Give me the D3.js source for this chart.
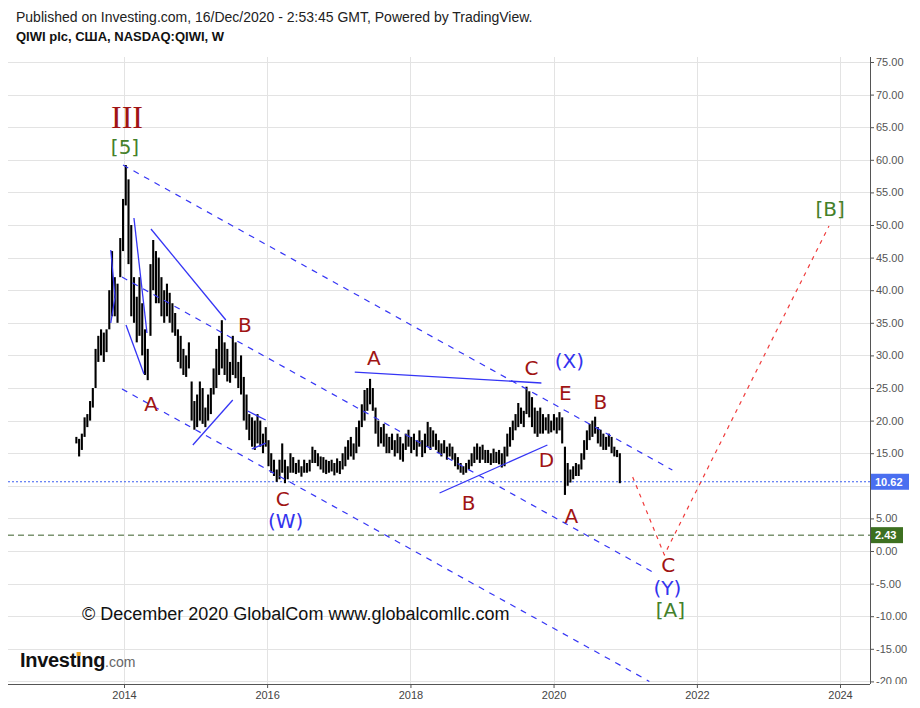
<!DOCTYPE html>
<html><head><meta charset="utf-8">
<script src="https://cdn.jsdelivr.net/npm/d3@7"></script>
<style>body{margin:0;background:#fff}svg{display:block}</style>
</head><body>
<svg id="c" width="920" height="708"></svg>
<script>
// ---------- DATA ----------
const barStart = "2013-05-03";
const barStepDays = 14;
const barHigh = [17.5,17.2,18, 20.5,21, 23,25, 31, 33,34,33.5,34, 40,46, 42,41, 48,54, 59.2, 57,50, 42,39, 42,38, 34,31,
  44,47.7,46, 45,42,40,41, 39.6,38,36.5, 34,33,31,30,32, 26,23, 24,26,25,22,24,25, 28,31,33,35.4,
  32,31,29,33,32,29,30, 26.7,24, 21,20.5,20,21,20,18,19, 17,15,14,12.5, 14,16.5,14,13,15,
  14.4,13.5,14,13,14,13.5,14, 16,15.5,15,14.5, 14.4,14,13.8,14,13.5,14.2,13.8, 15,16,17,17.5,16.5,
  19,20, 22.5,24.7,25, 26.4,25, 22,20,19,19.5, 18,17.5,18,17,18,17.5,16.5, 18,18.6,17.5,18,17,18.5,17,18,
  19.8,19,18.5,18, 17,16.5,17,16,16.5,16, 15,14.4,13.5,13,13.5,14, 15,16,16.5,16,16.3,15.5,
  15.5,15,15.7,15.2,15.5,15, 16,18,19,20, 21,22.7,22,21.5, 25.2,24.5, 23.6,22,21.5,22,
  21,20.5,21,20,21,20.5,21.3, 20.5,16, 13.5,12.5,13,13.5,13.3, 15,17,18.5,19.5,20, 20.6,
  19,18.6,18,17.5,18,17.5, 16,15.5, 15];
const barLow = [16.5,14.5,15.5, 17.5,19, 20,22, 25, 29,30,29,30.5, 34,36, 36,35, 42,46, 53, 44,36, 35,32, 33,30, 27,26.2,
  33,40,38, 38,36,35,36, 35,33.5,33, 29,28,27,26.7,28, 20,18.6, 19,20,19.5,19,20,21, 24,25,27,28,
  27,26,25.8,27,26.5,25,24, 20,18.6, 17,16,15.5,16.5,16,15,16, 13,12,11.5,10.6, 11,12,10.4,11,12,
  12,11.8,12,11.4,12,12,12.2, 13.5,13.5,13,12.5, 12,11.8,12,12.2,11.6,12,11.8, 12.5,13,14,14.5,14,
  15,16, 19,20,21.5, 22.5,21.5, 18,16,16.5,16, 15,15,15.5,14.5,15,14,13.7, 15.5,16,15,15.5,14.5,16,14.4,15,
  16,15.5,16,15.5, 15,14.5,15,14,14.5,14, 13,12.5,12,11.7,12,12.5, 13,13.5,14,13.5,14,13.5,
  13.5,13.2,13.5,13.5,13.3,12.8, 13,14.5,16,17, 18.5,19,19.5,19, 21,20.5, 19,18,17.5,18,
  18,18.5,18,18.2,18.5,18,18.5, 16.5,8.6, 10,10.5,11,11.5,11.5, 12.5,14,15.5,17,17.5, 18,
  16.5,16,15.5,15.5,16,15, 14.5,14.4, 10.4];
const lastPrice = 10.62;
const levelPrice = 2.43;
const yTicks = [75,70,65,60,55,50,45,40,35,30,25,20,15,10,5,0,-5,-10,-15,-20];
const xTickYears = [2014,2016,2018,2020,2022,2024];
// dashed channel lines [decimal year, price]
const channelLines = [
  [[2013.986,59.20],[2021.657,12.42]],
  [[2013.972,42.02],[2021.434,-3.53]],
  [[2013.972,24.85],[2021.336,-20]]
];
// solid trend lines
const trendLines = [
  [[2014.139,51.07],[2014.321,33.44]],
  [[2014.028,34.66],[2014.279,27.15]],
  [[2013.815,46.17],[2013.874,38.96],[2013.815,34.97]],
  [[2014.377,49.39],[2015.423,35.43]],
  [[2014.962,16.26],[2015.520,23.16]],
  [[2015.729,21.47],[2015.980,20.09]],
  [[2015.785,15.64],[2015.980,16.56]],
  [[2017.222,27.45],[2019.830,25.77]],
  [[2018.407,8.90],[2019.914,16.26]]
];
const forecastPath = [[2021.103,11.35],[2021.545,-0.6],[2023.846,49.85]];
const waveLabels = [
  {t:"III", x:2014.042, y:66.5, k:"roman"},
  {t:"[5]", x:2014.014, y:62.0, k:"green"},
  {t:"A", x:2014.377, y:22.55, k:"red"},
  {t:"B", x:2015.688, y:34.66, k:"red"},
  {t:"C", x:2016.218, y:8.0, k:"red"},
  {t:"(W)", x:2016.259, y:4.6, k:"blue"},
  {t:"A", x:2017.487, y:29.6, k:"red"},
  {t:"B", x:2018.812, y:7.4, k:"red"},
  {t:"C", x:2019.690, y:28.07, k:"red"},
  {t:"(X)", x:2020.220, y:29.2, k:"blue"},
  {t:"E", x:2020.165, y:24.3, k:"red"},
  {t:"D", x:2019.900, y:13.9, k:"red"},
  {t:"B", x:2020.653, y:22.9, k:"red"},
  {t:"A", x:2020.248, y:5.3, k:"red"},
  {t:"C", x:2021.601, y:-2.2, k:"red"},
  {t:"(Y)", x:2021.587, y:-5.7, k:"blue"},
  {t:"[A]", x:2021.629, y:-9.1, k:"green"},
  {t:"[B]", x:2023.861, y:52.45, k:"green"}
];
const headerLine1 = "Published on Investing.com, 16/Dec/2020 - 2:53:45 GMT, Powered by TradingView.";
const headerLine2 = "QIWI plc, США, NASDAQ:QIWI, W";
const copyright = "© December 2020 GlobalCom www.globalcomllc.com";

// ---------- STYLES ----------
const labelStyle = {
  roman:{fill:"#a01414", font:"'Liberation Serif', serif", size:32},
  red:{fill:"#a01414", font:"'DejaVu Sans', sans-serif", size:20},
  blue:{fill:"#3333ee", font:"'DejaVu Sans', sans-serif", size:20},
  green:{fill:"#44802a", font:"'DejaVu Sans', sans-serif", size:20}
};
const P = {l:8, r:870, t:57, b:684};

// ---------- SCALES ----------
function yd(v){const y=Math.floor(v);const s=Date.UTC(y,0,1),e=Date.UTC(y+1,0,1);return new Date(s+(v-y)*(e-s));}
const x = d3.scaleUtc().domain([yd(2014), yd(2024)]).range([124, 840]);
const y = d3.scaleLinear().domain([-20, 75]).range([681.4, 62]);
const fmt = d3.formatLocale({decimal:".",thousands:",",grouping:[3],currency:["$",""],minus:"-"}).format(".2f");

const svg = d3.select("#c");
const defs = svg.append("defs");
defs.append("clipPath").attr("id","plot").append("rect")
  .attr("x",P.l).attr("y",P.t).attr("width",P.r-P.l).attr("height",P.b-P.t);
defs.append("clipPath").attr("id","yax").append("rect")
  .attr("x",0).attr("y",P.t-10).attr("width",60).attr("height",P.b-P.t+10);

// grid
const grid = svg.append("g").attr("stroke","#e3e3e3").attr("stroke-width",1);
grid.selectAll(".h").data(yTicks).join("line")
  .attr("x1",P.l).attr("x2",P.r).attr("y1",d=>Math.round(y(d))+0.5).attr("y2",d=>Math.round(y(d))+0.5);
grid.selectAll(".v").data(xTickYears).join("line")
  .attr("y1",P.t).attr("y2",P.b).attr("x1",d=>Math.round(x(yd(d)))+0.5).attr("x2",d=>Math.round(x(yd(d)))+0.5);

const plot = svg.append("g").attr("clip-path","url(#plot)");

// horizontal price lines
plot.append("line").attr("x1",P.l).attr("x2",P.r)
  .attr("y1",y(levelPrice)).attr("y2",y(levelPrice))
  .attr("stroke","#3a5f2a").attr("stroke-width",1).attr("stroke-dasharray","6,4");
plot.append("line").attr("x1",P.l).attr("x2",P.r)
  .attr("y1",y(lastPrice)).attr("y2",y(lastPrice))
  .attr("stroke","#3b5ef0").attr("stroke-width",1).attr("stroke-dasharray","2,2");

// bars
const bars = barHigh.map((h,i)=>({d:d3.utcDay.offset(new Date(barStart+"T00:00:00Z"), i*barStepDays), h, l:barLow[i]}));
plot.append("g").selectAll("line").data(bars).join("line")
  .attr("x1",d=>x(d.d)).attr("x2",d=>x(d.d))
  .attr("y1",d=>y(d.h)).attr("y2",d=>y(d.l))
  .attr("stroke","#000").attr("stroke-width",2.1);

const line = d3.line().x(p=>x(yd(p[0]))).y(p=>y(p[1]));
plot.append("g").selectAll("path").data(channelLines).join("path")
  .attr("d",line).attr("fill","none").attr("stroke","#3535f5").attr("stroke-width",1.2).attr("stroke-dasharray","6,6");
plot.append("g").selectAll("path").data(trendLines).join("path")
  .attr("d",line).attr("fill","none").attr("stroke","#3535f5").attr("stroke-width",1.3);
plot.append("path").datum(forecastPath).attr("d",line).attr("fill","none")
  .attr("stroke","#f03c3c").attr("stroke-width",1.2).attr("stroke-dasharray","4,5");

// wave labels
svg.append("g").selectAll("text").data(waveLabels).join("text")
  .attr("x",d=>x(yd(d.x))).attr("y",d=>y(d.y))
  .attr("text-anchor","middle").attr("dominant-baseline","central")
  .attr("fill",d=>labelStyle[d.k].fill)
  .style("font-family",d=>labelStyle[d.k].font)
  .style("font-size",d=>labelStyle[d.k].size+"px")
  .text(d=>d.t);

// axes (the 10.00 label is hidden behind the last-price tag, as in the original)
const ya = svg.append("g").attr("transform",`translate(${P.r},0)`).attr("clip-path","url(#yax)")
  .call(d3.axisRight(y).tickValues(yTicks).tickFormat(fmt).tickSize(4).tickPadding(2));
ya.select(".domain").remove();
ya.selectAll("line").attr("stroke","#555");
ya.selectAll("text").attr("fill","#555").style("font-family","'Liberation Sans', Arial, sans-serif").style("font-size","11px");
ya.selectAll(".tick").filter(d=>d===10).select("text").remove();
svg.append("line").attr("x1",P.r+0.5).attr("x2",P.r+0.5).attr("y1",P.t).attr("y2",P.b).attr("stroke","#555");

const xa = svg.append("g").attr("transform",`translate(0,${P.b})`)
  .call(d3.axisBottom(x).tickValues(xTickYears.map(yd)).tickFormat(d3.utcFormat("%Y")).tickSize(4).tickPadding(3));
xa.select(".domain").remove();
xa.selectAll("line").attr("stroke","#555");
xa.selectAll("text").attr("fill","#444").style("font-family","'Liberation Sans', Arial, sans-serif").style("font-size","11px");
svg.append("line").attr("x1",P.l).attr("x2",P.r).attr("y1",P.b+0.5).attr("y2",P.b+0.5).attr("stroke","#555");

// price tags
function tag(v, fill, w){
  const g = svg.append("g");
  g.append("rect").attr("x",P.r+1).attr("y",y(v)-8).attr("width",w).attr("height",16).attr("fill",fill);
  g.append("text").attr("x",P.r+5).attr("y",y(v)).attr("dominant-baseline","central")
    .attr("fill","#fff").style("font-family","'Liberation Sans', Arial, sans-serif")
    .style("font-size","11px").style("font-weight","bold").text(fmt(v));
}
tag(lastPrice,"#4a6ff0",38);
tag(levelPrice,"#3d7020",32);

// header
const hf = "'Liberation Sans', Arial, sans-serif";
svg.append("text").attr("x",16).attr("y",22).attr("fill","#222").style("font-family",hf).style("font-size","14px").text(headerLine1);
svg.append("text").attr("x",16).attr("y",41).attr("fill","#111").style("font-family",hf).style("font-size","13px").style("font-weight","bold").text(headerLine2);

// copyright
svg.append("text").attr("x",82).attr("y",620).attr("fill","#111").style("font-family",hf).style("font-size","18px").text(copyright);

// logo
const logo = svg.append("text").attr("x",20).attr("y",667).style("font-family",hf);
logo.append("tspan").attr("fill","#111").style("font-size","20px").style("font-weight","bold").style("letter-spacing","-0.3px").text("Investing");
logo.append("tspan").attr("fill","#666").style("font-size","14px").text(".com");
try{
  const ext = logo.node().getExtentOfChar(6);
  svg.append("rect").attr("x",ext.x+ext.width/2-2).attr("y",ext.y+3).attr("width",4).attr("height",4).attr("fill","#f5a623");
}catch(e){}
</script>
</body></html>
